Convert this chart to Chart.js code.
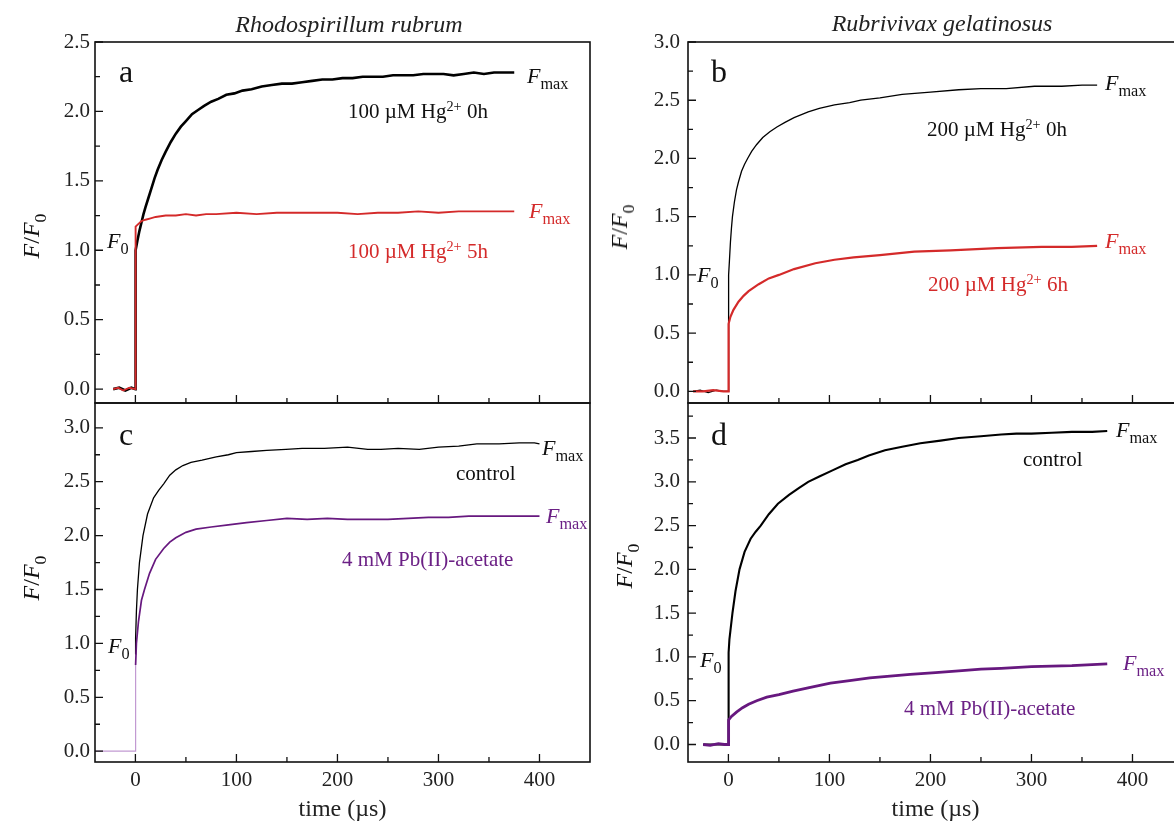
<!DOCTYPE html>
<html>
<head>
<meta charset="UTF-8"/>
<script src="https://cdn.jsdelivr.net/npm/chart.js@4.4.0/dist/chart.umd.min.js"></script>
<style>
  html, body { margin:0; padding:0; background:#fff; overflow:hidden; }
  #page { position:relative; width:1174px; height:827px; overflow:hidden; font-family:'Liberation Serif', serif; }
  canvas { position:absolute; }
  .t { position:absolute; white-space:nowrap; line-height:1; color:#111; }
  .sub { font-size:0.74em; position:relative; top:0.4em; font-style:normal; }
  .sup { font-size:0.68em; position:relative; top:-0.5em; }
  .ylab { position:absolute; white-space:nowrap; line-height:1; font-size:24px; transform:translate(-50%,-50%) rotate(-90deg); color:#111; }
</style>
</head>
<body>
<div id="page">
  <canvas id="chartA" width="600" height="420" style="left:0;top:0"></canvas>
  <canvas id="chartB" width="600" height="420" style="left:593px;top:0"></canvas>
  <canvas id="chartC" width="600" height="432" style="left:0;top:395px"></canvas>
  <canvas id="chartD" width="600" height="432" style="left:593px;top:395px"></canvas>
</div>
<script>
// time (µs), F/F0 pairs
const aHg0h = [[-22,0],[-16,0.01],[-10,-0.01],[-4,0.01],[0,0],[0.2,1.0],[2,1.07],[4,1.14],[6,1.2],[8,1.26],[10,1.31],[13,1.38],[16,1.45],[19,1.52],[22,1.58],[26,1.65],[30,1.71],[35,1.78],[40,1.84],[45,1.89],[50,1.93],[56,1.98],[62,2.01],[68,2.04],[75,2.07],[82,2.09],[90,2.12],[98,2.13],[106,2.15],[115,2.16],[125,2.18],[135,2.19],[145,2.2],[155,2.2],[165,2.21],[175,2.22],[185,2.23],[195,2.23],[205,2.24],[215,2.24],[225,2.25],[235,2.25],[245,2.25],[255,2.26],[265,2.26],[275,2.26],[285,2.27],[295,2.27],[305,2.27],[315,2.26],[325,2.27],[335,2.28],[345,2.27],[355,2.28],[365,2.28],[375,2.28]];
const aHg5h = [[-22,0],[-17,0.01],[-12,-0.01],[-6,0.01],[0,0],[0.2,1.17],[3,1.19],[6,1.21],[10,1.22],[15,1.23],[20,1.24],[30,1.25],[40,1.25],[50,1.26],[60,1.25],[70,1.26],[80,1.26],[100,1.27],[120,1.26],[140,1.27],[160,1.27],[180,1.27],[200,1.27],[220,1.26],[240,1.27],[260,1.27],[280,1.28],[300,1.27],[320,1.28],[340,1.28],[360,1.28],[375,1.28]];
const bHg0h = [[-35,0],[-28,0.01],[-20,-0.01],[-12,0.01],[-5,0],[0,0],[0.2,1.0],[1,1.12],[2,1.28],[3,1.4],[4,1.5],[6,1.63],[8,1.73],[10,1.8],[13,1.89],[16,1.95],[19,2.0],[23,2.06],[28,2.12],[34,2.18],[41,2.23],[48,2.27],[56,2.31],[65,2.35],[79,2.4],[90,2.43],[105,2.46],[120,2.48],[131,2.5],[150,2.52],[172,2.55],[200,2.57],[228,2.59],[250,2.6],[275,2.6],[303,2.62],[330,2.62],[350,2.63],[365,2.63]];
const bHg6h = [[-35,0],[-25,0],[-15,0.01],[-5,0],[0,0],[0.2,0.58],[2,0.64],[5,0.7],[10,0.77],[15,0.82],[20,0.86],[30,0.92],[40,0.97],[50,1.0],[65,1.05],[86,1.1],[105,1.13],[124,1.15],[150,1.17],[184,1.2],[220,1.21],[266,1.23],[310,1.24],[340,1.24],[365,1.25]];
const cControl = [[0,0.9],[0.2,1.05],[1,1.3],[2,1.5],[4,1.75],[7.5,2.0],[12,2.2],[18,2.35],[23,2.42],[28,2.48],[34,2.56],[40,2.61],[47,2.65],[55,2.68],[66,2.7],[80,2.73],[92,2.75],[100,2.77],[115,2.78],[130,2.79],[149,2.8],[165,2.81],[187,2.81],[210,2.82],[230,2.8],[243,2.8],[260,2.81],[281,2.8],[300,2.82],[320,2.83],[338,2.85],[360,2.85],[380,2.86],[395,2.86],[400,2.85]];
const cPb = [[-40,0],[0,0],[0.2,0.8],[1,1.0],[3,1.2],[6,1.4],[9,1.5],[14,1.65],[20,1.78],[28,1.88],[34,1.94],[40,1.98],[50,2.03],[60,2.06],[75,2.08],[92,2.1],[110,2.12],[130,2.14],[150,2.16],[170,2.15],[190,2.16],[210,2.15],[230,2.15],[250,2.15],[270,2.16],[290,2.17],[310,2.17],[330,2.18],[350,2.18],[370,2.18],[390,2.18],[400,2.18]];
const dControl = [[-25,0],[0,0],[0.2,1.05],[1,1.2],[2,1.3],[4,1.5],[7,1.75],[11,2.0],[16,2.2],[22,2.35],[27,2.43],[32,2.5],[40,2.63],[49,2.75],[60,2.85],[70,2.93],[79,3.0],[90,3.06],[103,3.13],[116,3.2],[128,3.25],[139,3.3],[155,3.36],[172,3.4],[190,3.44],[210,3.47],[228,3.5],[250,3.52],[270,3.54],[285,3.55],[300,3.55],[320,3.56],[340,3.57],[360,3.57],[375,3.58]];
const dPb = [[-25,0],[-18,-0.01],[-10,0.01],[-4,0],[0,0],[0.2,0.28],[3,0.32],[8,0.37],[14,0.42],[20,0.46],[28,0.5],[38,0.54],[50,0.57],[64,0.61],[80,0.65],[101,0.7],[120,0.73],[140,0.76],[160,0.78],[180,0.8],[205,0.82],[228,0.84],[250,0.86],[270,0.87],[300,0.89],[340,0.9],[375,0.92]];

const xTicks = [0, 100, 200, 300, 400];
const yTicksA = [0, 0.5, 1.0, 1.5, 2.0, 2.5];
const yTicksB = [0, 0.5, 1.0, 1.5, 2.0, 2.5, 3.0];
const yTicksC = [0, 0.5, 1.0, 1.5, 2.0, 2.5, 3.0];
const yTicksD = [0, 0.5, 1.0, 1.5, 2.0, 2.5, 3.0, 3.5];

const RED = '#d42a2a', PURPLE = '#67187f', LIGHT_PURPLE = '#c29ad2';
const FONT = "'Liberation Serif', serif";

// frame + inward major/minor ticks
const framePlugin = {
  id: 'frame',
  afterDraw(chart) {
    const {ctx, chartArea: a, scales} = chart;
    const x = scales.x, y = scales.y;
    ctx.save();
    ctx.strokeStyle = '#111';
    ctx.lineWidth = 1.6;
    ctx.strokeRect(a.left, a.top, a.right - a.left, a.bottom - a.top);
    ctx.lineWidth = 1.3;
    ctx.beginPath();
    const yv = y.ticks.map(t => t.value);
    const ys = yv[1] - yv[0];
    const yMinor = [];
    yv.forEach(v => [v - ys / 2, v + ys / 2].forEach(m => { if (m > y.min && m < y.max && !yMinor.includes(m)) yMinor.push(m); }));
    yv.forEach(v => { const p = y.getPixelForValue(v); ctx.moveTo(a.left, p); ctx.lineTo(a.left + 8, p); });
    yMinor.forEach(v => { const p = y.getPixelForValue(v); ctx.moveTo(a.left, p); ctx.lineTo(a.left + 5, p); });
    const xv = x.ticks.map(t => t.value);
    const xs = xv[1] - xv[0];
    const xMinor = [];
    xv.forEach(v => [v - xs / 2, v + xs / 2].forEach(m => { if (m > x.min && m < x.max && !xMinor.includes(m)) xMinor.push(m); }));
    xv.forEach(v => { const p = x.getPixelForValue(v); ctx.moveTo(p, a.bottom); ctx.lineTo(p, a.bottom - 8); });
    xMinor.forEach(v => { const p = x.getPixelForValue(v); ctx.moveTo(p, a.bottom); ctx.lineTo(p, a.bottom - 5); });
    ctx.stroke();
    ctx.restore();
  }
};

function series(pairs, color, width, extra) {
  return Object.assign({
    data: pairs.map(p => ({x: p[0], y: p[1]})),
    borderColor: color,
    borderWidth: width,
    pointRadius: 0,
    tension: 0,
    fill: false
  }, extra || {});
}

function noPad(s) {
  s.paddingTop = 0; s.paddingBottom = 0; s.paddingLeft = 0; s.paddingRight = 0;
}

function makePanel(id, datasets, yMin, yMax, yTicks, bottom, yPad) {
  new Chart(document.getElementById(id), {
    type: 'line',
    data: {datasets: datasets},
    plugins: [framePlugin],
    options: {
      responsive: false,
      animation: false,
      layout: {padding: {left: 0, right: 10, top: bottom ? 8 : 42, bottom: 0}},
      plugins: {legend: {display: false}, tooltip: {enabled: false}},
      scales: {
        x: {
          type: 'linear', min: -40, max: 450,
          afterBuildTicks: s => { s.ticks = xTicks.map(v => ({value: v})); },
          afterFit: s => { s.height = bottom ? 65 : 17; noPad(s); },
          grid: {display: false, drawTicks: false},
          border: {display: false},
          ticks: {display: bottom, padding: 6, maxRotation: 0, color: '#222', font: {family: FONT, size: 21}},
          title: {display: bottom, text: 'time (µs)', color: '#222', font: {family: FONT, size: 24}, padding: {top: 0, bottom: 3}}
        },
        y: {
          min: yMin, max: yMax,
          afterBuildTicks: s => { s.ticks = yTicks.map(v => ({value: v})); },
          afterFit: s => { s.width = 95; noPad(s); },
          grid: {display: false, drawTicks: false},
          border: {display: false},
          ticks: {padding: yPad, color: '#222', font: {family: FONT, size: 21}, callback: v => v.toFixed(1)}
        }
      }
    }
  });
}

makePanel('chartA', [series(aHg5h, RED, 1.9), series(aHg0h, '#000', 2.6)], -0.1, 2.5, yTicksA, false, 5);
makePanel('chartB', [series(bHg6h, RED, 2.2), series(bHg0h, '#000', 1.3)], -0.1, 3.0, yTicksB, false, 8);
makePanel('chartC', [
  series(cPb, PURPLE, 1.7, {segment: {
    borderColor: c => c.p1.parsed.x <= 0.25 ? LIGHT_PURPLE : undefined,
    borderWidth: c => c.p1.parsed.x <= 0.25 ? 1.2 : undefined
  }}),
  series(cControl, '#000', 1.3)
], -0.1, 3.23, yTicksC, true, 5);
makePanel('chartD', [series(dPb, PURPLE, 2.8), series(dControl, '#000', 2.1)], -0.2, 3.9, yTicksD, true, 8);

// annotations: html, left, baseline, size, color, italic, centered
const page = document.getElementById('page');
function addText(html, x, base, size, color, italic, center) {
  const el = document.createElement('div');
  el.className = 't';
  el.innerHTML = html;
  el.style.fontSize = size + 'px';
  el.style.left = x + 'px';
  el.style.top = (base - 0.8375 * size) + 'px';
  if (color) el.style.color = color;
  if (italic) el.style.fontStyle = 'italic';
  if (center) el.style.transform = 'translateX(-50%)';
  page.appendChild(el);
}
const FMAX = '<i>F</i><span class="sub">max</span>';
const F0 = '<i>F</i><span class="sub">0</span>';
const TEXT_PURPLE = '#6b2085';

addText('Rhodospirillum rubrum', 349, 32, 24, '#222', true, true);
addText('Rubrivivax gelatinosus', 942, 31, 24, '#222', true, true);

addText('a', 119, 82, 32);
addText('b', 711, 82, 32);
addText('c', 119, 445, 32);
addText('d', 711, 445, 32);

addText(FMAX, 527, 83, 22);
addText(FMAX, 529, 218, 22, RED);
addText(FMAX, 1105, 90, 22);
addText(FMAX, 1105, 248, 22, RED);
addText(FMAX, 542, 455, 22);
addText(FMAX, 546, 523, 22, TEXT_PURPLE);
addText(FMAX, 1116, 437, 22);
addText(FMAX, 1123, 670, 22, TEXT_PURPLE);

addText(F0, 107, 248, 22);
addText(F0, 697, 282, 22);
addText(F0, 108, 653, 22);
addText(F0, 700, 667, 22);

addText('100 µM Hg<span class="sup">2+</span> 0h', 348, 119, 21);
addText('100 µM Hg<span class="sup">2+</span> 5h', 348, 259, 21, RED);
addText('200 µM Hg<span class="sup">2+</span> 0h', 927, 137, 21);
addText('200 µM Hg<span class="sup">2+</span> 6h', 928, 292, 21, RED);
addText('control', 456, 481, 21);
addText('4 mM Pb(II)-acetate', 342, 567, 21, TEXT_PURPLE);
addText('control', 1023, 467, 21);
addText('4 mM Pb(II)-acetate', 904, 716, 21, TEXT_PURPLE);

[[31, 236], [619, 227], [31, 578], [624, 566]].forEach(p => {
  const el = document.createElement('div');
  el.className = 'ylab';
  el.innerHTML = '<i>F</i>/<i>F</i><span class="sub">0</span>';
  el.style.left = p[0] + 'px';
  el.style.top = p[1] + 'px';
  page.appendChild(el);
});
</script>
</body>
</html>
